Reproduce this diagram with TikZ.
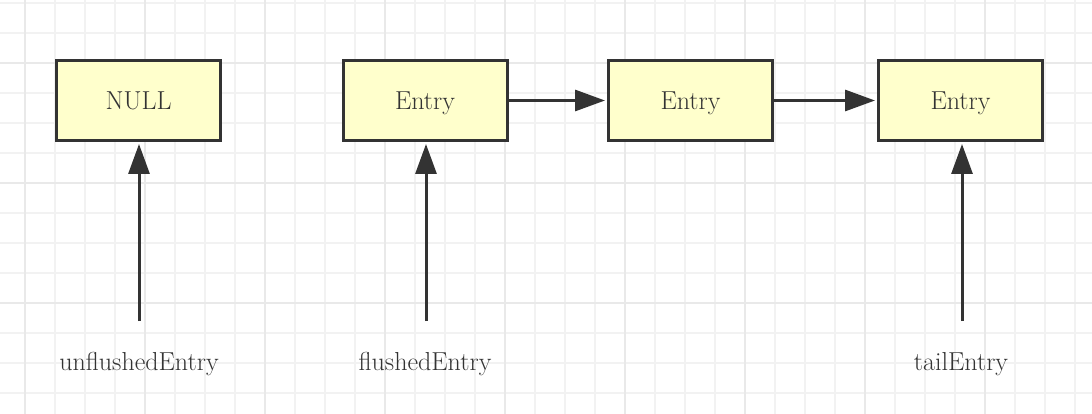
\documentclass[tikz,border=0pt]{standalone}
\usepackage{fontspec}
\usetikzlibrary{arrows.meta}
\definecolor{gridminor}{HTML}{F2F2F2}
\definecolor{gridmajor}{HTML}{E9E9E9}
\definecolor{ink}{HTML}{333333}
\definecolor{boxfill}{HTML}{FFFFCC}
\tikzset{
  entrybox/.style={draw=ink, line width=3pt, fill=boxfill, minimum width=164pt, minimum height=80pt, inner sep=0pt, text depth=0pt, text=ink, font=\fontsize{26}{31}\selectfont},
  lbl/.style={text=ink, inner sep=0pt, font=\fontsize{26}{31}\selectfont},
  conn/.style={draw=ink, line width=3pt, -{Triangle[length=30pt,width=21pt]}, shorten >=2pt}
}
\begin{document}
\begin{tikzpicture}[x=1pt,y=-1pt]
\useasboundingbox (0,0) rectangle (1092,414);
\fill[white] (0,0) rectangle (1092,414);
% grid
\foreach \x in {25,55,...,1075} \draw[gridminor, line width=1.6pt] (\x,0) -- (\x,414);
\foreach \y in {3,33,...,393} \draw[gridminor, line width=1.6pt] (0,\y) -- (1092,\y);
\foreach \x in {25,145,...,985} \draw[gridmajor, line width=1.8pt] (\x,0) -- (\x,414);
\foreach \y in {63,183,303} \draw[gridmajor, line width=1.8pt] (0,\y) -- (1092,\y);
% boxes
\node[entrybox] (null) at (138.5,100.5) {NULL};
\node[entrybox] (e1) at (425,100.5) {Entry};
\node[entrybox] (e2) at (690.5,100.5) {Entry};
\node[entrybox] (e3) at (960.5,100.5) {Entry};
% pointer start points
\coordinate (pu) at (139,321);
\coordinate (pf) at (426,321);
\coordinate (pt) at (962,321);
% labels
\node[lbl, anchor=base] (lu) at (139,370) {unflushedEntry};
\node[lbl, anchor=base] (lf) at (425,370) {flushedEntry};
\node[lbl, anchor=base] (lt) at (961,370) {tailEntry};
% connectors
\draw[conn] (e1.east) -- (e2.west);
\draw[conn] (e2.east) -- (e3.west);
\draw[conn] (pu) -- (pu |- null.south);
\draw[conn] (pf) -- (pf |- e1.south);
\draw[conn] (pt) -- (pt |- e3.south);
\end{tikzpicture}
\end{document}
